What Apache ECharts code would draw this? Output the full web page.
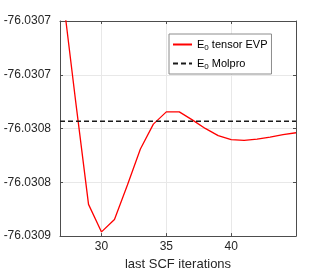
<!DOCTYPE html>
<html><head><meta charset="utf-8">
<script src="https://cdn.jsdelivr.net/npm/echarts@6/dist/echarts.min.js"></script>
<style>html,body{margin:0;padding:0;background:#fff}#c{width:327px;height:276px}</style>
</head><body><div id="c"></div>
<script>
const iterations = [27, 28, 29, 30, 31, 32, 33, 34, 35, 36, 37, 38, 39, 40, 41, 42, 43, 44, 45];
const tensorEVP = [-76.0306744, -76.0307741, -76.0308705, -76.0308961, -76.0308845, -76.0308525, -76.030819,
  -76.0307959, -76.0307845, -76.0307845, -76.0307919, -76.0307999, -76.0308066, -76.0308103, -76.030811,
  -76.0308098, -76.0308079, -76.0308057, -76.0308039];
const molproEnergy = -76.0307932;
const seriesNames = ['E0 tensor EVP', 'E0 Molpro'];
const legendRich = {'E0 tensor EVP': '{m|E}{s|0}{m| tensor EVP}', 'E0 Molpro': '{m|E}{s|0}{m| Molpro}'};
const xTicks = [30, 35, 40];
const xRange = [26.8, 45];
const yTicks = [-76.0309, -76.03085, -76.0308, -76.03075, -76.0307];
const yTickLabels = ['-76.0309', '-76.0308', '-76.0308', '-76.0307', '-76.0307'];
const xTitle = 'last SCF iterations';

const axisColor = '#4d4d4d';
const gridColor = '#e8e8e8';
function yLabel(v) {
  let best = 0, bd = Infinity;
  yTicks.forEach((t, i) => { const d = Math.abs(t - v); if (d < bd) { bd = d; best = i; } });
  return yTickLabels[best];
}
const chart = echarts.init(document.getElementById('c'), null, {renderer: 'canvas'});
chart.setOption({
  animation: false,
  grid: {left: 60, right: 31, top: 21, bottom: 36},
  xAxis: [{
    type: 'value', min: xRange[0], max: xRange[1], position: 'bottom',
    name: xTitle, nameLocation: 'middle', nameGap: 21,
    nameTextStyle: {fontSize: 13, color: '#262626', fontFamily: 'Liberation Sans'},
    axisLine: {show: true, onZero: false, lineStyle: {color: axisColor, width: 1}},
    axisTick: {show: true, inside: true, length: 3, customValues: xTicks, lineStyle: {color: axisColor}},
    axisLabel: {customValues: xTicks, fontSize: 12, color: '#262626', fontFamily: 'Liberation Sans', margin: 5},
    splitLine: {show: true, lineStyle: {color: gridColor, width: 1}}
  }, {
    type: 'value', min: xRange[0], max: xRange[1], position: 'top',
    axisLine: {show: true, onZero: false, lineStyle: {color: axisColor, width: 1}},
    axisTick: {show: true, inside: true, length: 3, customValues: xTicks, lineStyle: {color: axisColor}},
    axisLabel: {show: false}, splitLine: {show: false}
  }],
  yAxis: [{
    type: 'value', min: yTicks[0], max: yTicks[yTicks.length - 1], position: 'left', scale: true,
    axisLine: {show: true, onZero: false, lineStyle: {color: axisColor, width: 1}},
    axisTick: {show: true, inside: true, length: 3, customValues: yTicks, lineStyle: {color: axisColor}},
    axisLabel: {customValues: yTicks, formatter: yLabel, fontSize: 12, color: '#262626', fontFamily: 'Liberation Sans', margin: 9},
    splitLine: {show: true, lineStyle: {color: gridColor, width: 1}}
  }, {
    type: 'value', min: yTicks[0], max: yTicks[yTicks.length - 1], position: 'right', scale: true,
    axisLine: {show: true, onZero: false, lineStyle: {color: axisColor, width: 1}},
    axisTick: {show: true, inside: true, length: 3, customValues: yTicks, lineStyle: {color: axisColor}},
    axisLabel: {show: false}, splitLine: {show: false}
  }],
  legend: {
    show: true, orient: 'vertical', left: 169, top: 34,
    data: seriesNames,
    backgroundColor: '#fff', borderColor: '#8c8c8c', borderWidth: 1, borderRadius: 0,
    padding: [3, 4, 3, 3], itemWidth: 19, itemHeight: 14, itemGap: 4,
    itemStyle: {opacity: 0},
    formatter: n => legendRich[n],
    textStyle: {
      color: '#000', fontFamily: 'Liberation Sans', fontSize: 11,
      rich: {
        m: {fontSize: 11, fontFamily: 'Liberation Sans', color: '#000', lineHeight: 14},
        s: {fontSize: 8, fontFamily: 'Liberation Sans', color: '#000', lineHeight: 14, padding: [7, 0, 0, 0]}
      }
    }
  },
  series: [{
    name: seriesNames[0], type: 'line', xAxisIndex: 0, yAxisIndex: 0,
    data: iterations.map((x, i) => [x, tensorEVP[i]]),
    showSymbol: false, symbol: 'none', clip: true,
    lineStyle: {color: '#ff0000', width: 1.3}, itemStyle: {color: '#ff0000'}
  }, {
    name: seriesNames[1], type: 'line', xAxisIndex: 0, yAxisIndex: 0,
    data: xRange.map(x => [x, molproEnergy]), showSymbol: false, symbol: 'none', z: 3,
    lineStyle: {color: '#1a1a1a', width: 1.4, type: [5, 3]}, itemStyle: {color: '#1a1a1a'}
  }]
});
</script></body></html>
